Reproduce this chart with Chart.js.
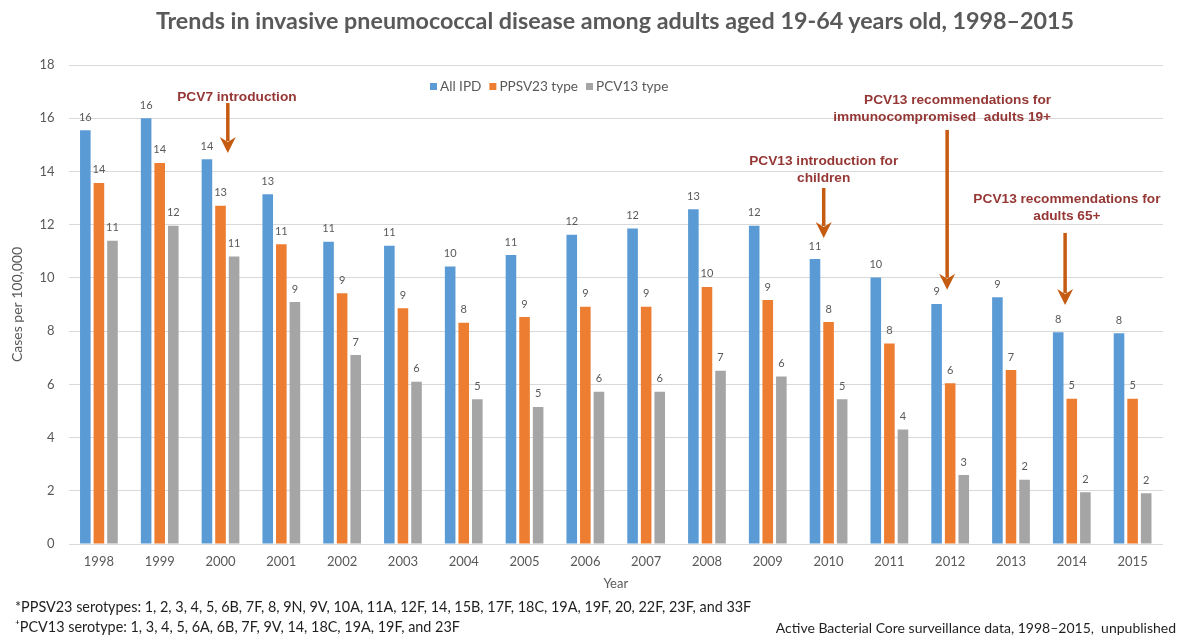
<!DOCTYPE html>
<html>
<head>
<meta charset="utf-8">
<title>Trends in invasive pneumococcal disease among adults aged 19-64 years old, 1998–2015</title>
<script src="https://cdn.jsdelivr.net/npm/chart.js@4.4.1/dist/chart.umd.min.js"></script>
<style>
  html, body { margin: 0; padding: 0; background: #ffffff; }
  #wrap { position: relative; width: 1184px; height: 637px; overflow: hidden; }
  #chart { position: absolute; left: 0; top: 0; }
  .txt { position: absolute; white-space: pre; font-family: Lato, "Open Sans", sans-serif; }
  #title { left: 615px; top: 6px; transform: translateX(-50%); font-size: 23.3px; font-weight: 700; color: #595959; }
  .foot { font-size: 14px; color: #1f1f1f; }
</style>
</head>
<body>
<div id="wrap">
  <canvas id="chart" width="1184" height="637"></canvas>
  <div id="title" class="txt">Trends in invasive pneumococcal disease among adults aged 19-64 years old, 1998–2015</div>
  <div class="txt foot" style="left:15px; top:598px; font-size:14.4px;">*PPSV23 serotypes: 1, 2, 3, 4, 5, 6B, 7F, 8, 9N, 9V, 10A, 11A, 12F, 14, 15B, 17F, 18C, 19A, 19F, 20, 22F, 23F, and 33F</div>
  <div class="txt foot" style="left:15px; top:618px; font-size:14.4px;">⁺PCV13 serotype: 1, 3, 4, 5, 6A, 6B, 7F, 9V, 14, 18C, 19A, 19F, and 23F</div>
  <div class="txt foot" style="right:8px; top:619px;">Active Bacterial Core surveillance data, 1998–2015,  unpublished</div>
</div>
<script>
// Surveillance years on the category axis
const years = ['1998', '1999', '2000', '2001', '2002', '2003', '2004', '2005', '2006',
               '2007', '2008', '2009', '2010', '2011', '2012', '2013', '2014', '2015'];

// Cases per 100,000 adults aged 19-64
const allIPD = [15.55, 16.00, 14.46, 13.14, 11.36, 11.21, 10.43, 10.86, 11.62,
                11.86, 12.58, 11.96, 10.71, 10.01, 9.02, 9.27, 7.96, 7.92];
const ppsv23Type = [13.57, 14.32, 12.71, 11.26, 9.42, 8.86, 8.31, 8.53, 8.92,
                    8.92, 9.66, 9.17, 8.34, 7.53, 6.04, 6.54, 5.46, 5.46];
const pcv13Type = [11.40, 11.96, 10.80, 9.09, 7.10, 6.10, 5.44, 5.15, 5.72,
                   5.72, 6.51, 6.29, 5.44, 4.30, 2.59, 2.41, 1.94, 1.91];

// Value axis ticks
const yTicks = [0, 2, 4, 6, 8, 10, 12, 14, 16, 18];

const seriesNames = ['All IPD', 'PPSV23 type', 'PCV13 type'];
const seriesColors = ['#5B9BD5', '#ED7D31', '#A5A5A5'];

// Policy milestones: category position (index), value position, arrow start/end values
const milestones = [
  { lines: ['PCV7 introduction'], x: 2.27, y: 16.80, align: 'center',
    arrowX: 2.12, arrowFrom: 16.57, arrowTo: 14.69 },
  { lines: ['PCV13 introduction for', 'children'], x: 11.92, y: 14.39, align: 'center',
    arrowX: 11.92, arrowFrom: 13.38, arrowTo: 11.50 },
  { lines: ['PCV13 recommendations for', 'immunocompromised  adults 19+'], x: 15.66, y: 16.69, align: 'right',
    arrowX: 13.95, arrowFrom: 15.56, arrowTo: 9.55 },
  { lines: ['PCV13 recommendations for', 'adults 65+'], x: 15.92, y: 12.97, align: 'center',
    arrowX: 15.89, arrowFrom: 11.69, arrowTo: 8.98 }
];

const axisFont = { family: 'Lato, "Open Sans", sans-serif', size: 13 };

// Rounded value printed above every bar
const valueLabels = {
  id: 'valueLabels',
  afterDatasetsDraw(chart) {
    const ctx = chart.ctx;
    ctx.save();
    ctx.font = '11px Lato, "Open Sans", sans-serif';
    ctx.fillStyle = '#595959';
    ctx.textAlign = 'center';
    ctx.textBaseline = 'middle';
    chart.data.datasets.forEach((ds, i) => {
      chart.getDatasetMeta(i).data.forEach((bar, j) => {
        ctx.fillText(String(Math.round(ds.data[j])), bar.x, bar.y - 13);
      });
    });
    ctx.restore();
  }
};

// Legend row inside the plotting area
const insideLegend = {
  id: 'insideLegend',
  afterDraw(chart) {
    const ctx = chart.ctx;
    const y = chart.chartArea.top + 22;
    let x = 430;
    ctx.save();
    ctx.font = '13.6px Lato, "Open Sans", sans-serif';
    ctx.textBaseline = 'middle';
    ctx.textAlign = 'left';
    chart.data.datasets.forEach(ds => {
      ctx.fillStyle = ds.backgroundColor;
      ctx.fillRect(x, y - 4, 7, 7);
      x += 10;
      ctx.fillStyle = '#595959';
      ctx.fillText(ds.label, x, y);
      x += ctx.measureText(ds.label).width + 8;
    });
    ctx.restore();
  }
};

// Milestone captions and arrows
const milestoneNotes = {
  id: 'milestoneNotes',
  afterDraw(chart) {
    const ctx = chart.ctx;
    const xs = chart.scales.x, ys = chart.scales.y;
    const slot = xs.getPixelForValue(1) - xs.getPixelForValue(0);
    const px = v => xs.getPixelForValue(0) + v * slot;
    ctx.save();
    milestones.forEach(m => {
      // arrow
      const ax = px(m.arrowX);
      const y1 = ys.getPixelForValue(m.arrowFrom);
      const y2 = ys.getPixelForValue(m.arrowTo);
      const head = 16, half = 8;
      ctx.strokeStyle = '#C55A11';
      ctx.fillStyle = '#C55A11';
      ctx.lineWidth = 3.5;
      ctx.beginPath();
      ctx.moveTo(ax, y1);
      ctx.lineTo(ax, y2 - head + 4);
      ctx.stroke();
      ctx.beginPath();
      ctx.moveTo(ax, y2);
      ctx.lineTo(ax - half, y2 - head);
      ctx.lineTo(ax, y2 - head + 5);
      ctx.lineTo(ax + half, y2 - head);
      ctx.closePath();
      ctx.fill();
      // caption
      ctx.fillStyle = '#953735';
      ctx.font = 'bold 13.7px "Liberation Sans", Arial, sans-serif';
      ctx.textAlign = m.align;
      ctx.textBaseline = 'middle';
      const tx = px(m.x);
      const ty = ys.getPixelForValue(m.y);
      m.lines.forEach((line, k) => ctx.fillText(line, tx, ty + k * 17));
    });
    ctx.restore();
  }
};

new Chart(document.getElementById('chart'), {
  type: 'bar',
  data: {
    labels: years,
    datasets: [
      { label: seriesNames[0], data: allIPD, backgroundColor: seriesColors[0] },
      { label: seriesNames[1], data: ppsv23Type, backgroundColor: seriesColors[1] },
      { label: seriesNames[2], data: pcv13Type, backgroundColor: seriesColors[2] }
    ]
  },
  options: {
    responsive: false,
    animation: false,
    layout: { padding: { top: 65, right: 21, bottom: 42, left: 0 } },
    datasets: { bar: { categoryPercentage: 0.67, barPercentage: 0.78 } },
    plugins: {
      legend: { display: false },
      title: { display: false },
      tooltip: { enabled: false }
    },
    scales: {
      x: {
        grid: { display: false, drawTicks: false },
        border: { display: false },
        ticks: { color: '#595959', font: axisFont, padding: 10, maxRotation: 0 },
        title: { display: true, text: 'Year', color: '#595959', font: axisFont, padding: { top: 0, bottom: 3 } },
        afterFit(scale) { scale.height = 51; }
      },
      y: {
        min: 0,
        max: 18,
        afterBuildTicks(scale) { scale.ticks = yTicks.map(v => ({ value: v })); },
        grid: { color: '#D9D9D9', lineWidth: 1, drawTicks: false },
        border: { display: false },
        ticks: { color: '#595959', font: axisFont, padding: 14 },
        title: { display: true, text: 'Cases per 100,000', color: '#595959',
                 font: { family: 'Lato, "Open Sans", sans-serif', size: 14 }, padding: { top: 9, bottom: 0 } },
        afterFit(scale) { scale.width = 68.5; }
      }
    }
  },
  plugins: [valueLabels, insideLegend, milestoneNotes]
});
</script>
</body>
</html>
